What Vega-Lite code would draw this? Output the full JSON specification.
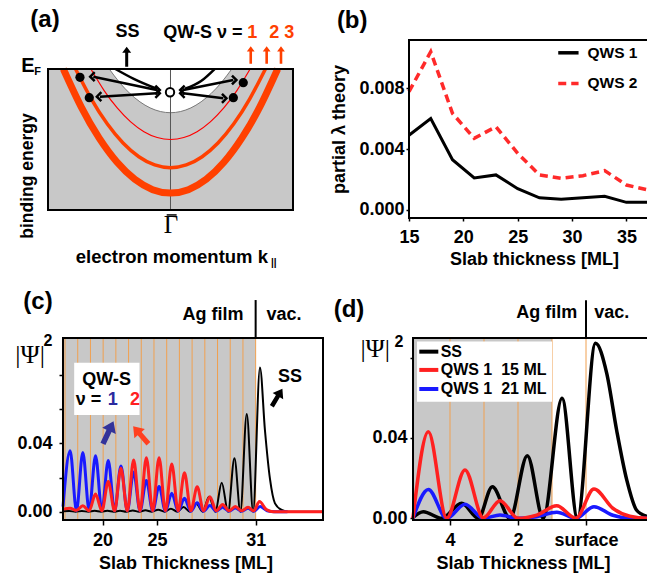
{
"$schema":"https://vega.github.io/schema/vega-lite/v6.json",
"autosize":{"type":"none"},
"padding":{"left":48,"top":40,"right":599,"bottom":537},
"columns":2,
"spacing":{"row":120,"column":86},
"bounds":"flush",
"align":"each",
"config":{
 "font":"Liberation Sans",
 "view":{"stroke":null},
 "axis":{"grid":false,"domain":false,"labelFont":"Liberation Sans","labelFontWeight":"bold","labelFontSize":18,"labelColor":"black","titleFont":"Liberation Sans","titleFontWeight":"bold","titleFontSize":18,"titleColor":"black","tickColor":"black","tickWidth":1.5,"labelFlush":false,"labelOverlap":false},
 "text":{"font":"Liberation Sans","fontWeight":"bold","fontSize":18,"color":"black"}
},
"concat":[
{
"width":275,"height":178,
"encoding":{
 "x":{"field":"x","type":"quantitative","scale":{"domain":[-1,1.2449],"nice":false,"zero":false},"axis":null},
 "y":{"field":"y","type":"quantitative","scale":{"domain":[-0.2057,1.0567],"nice":false,"zero":false,"reverse":true},"axis":null}
},
"layer":[
 {"data":{"values":[{"x":-1,"x2":1,"y":0,"y2":1}]},"mark":{"type":"rect","color":"#c8c8c8"},"encoding":{"x2":{"field":"x2"},"y2":{"field":"y2"}}},
 {"data":{"values":[{"x":-0.5,"y":0},{"x":-0.4167,"y":0.0947},{"x":-0.3333,"y":0.1722},{"x":-0.25,"y":0.2325},{"x":-0.1667,"y":0.2756},{"x":-0.0833,"y":0.3014},{"x":0,"y":0.31},{"x":0.0833,"y":0.3014},{"x":0.1667,"y":0.2756},{"x":0.25,"y":0.2325},{"x":0.3333,"y":0.1722},{"x":0.4167,"y":0.0947},{"x":0.5,"y":0}]},"mark":{"type":"area","color":"white","interpolate":"natural"},"encoding":{"y2":{"datum":0}}},
 {"data":{"values":[{"x":-0.5,"y":0},{"x":-0.4167,"y":0.0947},{"x":-0.3333,"y":0.1722},{"x":-0.25,"y":0.2325},{"x":-0.1667,"y":0.2756},{"x":-0.0833,"y":0.3014},{"x":0,"y":0.31},{"x":0.0833,"y":0.3014},{"x":0.1667,"y":0.2756},{"x":0.25,"y":0.2325},{"x":0.3333,"y":0.1722},{"x":0.4167,"y":0.0947},{"x":0.5,"y":0}]},"mark":{"type":"line","color":"#7a7a7a","strokeWidth":1,"interpolate":"natural"}},
 {"data":{"values":[{"x":0,"y":0,"y2":1}]},"mark":{"type":"rule","color":"#555555","strokeWidth":1},"encoding":{"y2":{"field":"y2"}}},
 {"data":{"values":[{"x":-0.875,"y":0},{"x":-0.7292,"y":0.2689},{"x":-0.5833,"y":0.4889},{"x":-0.4375,"y":0.66},{"x":-0.2917,"y":0.7822},{"x":-0.1458,"y":0.8556},{"x":0,"y":0.88},{"x":0.1458,"y":0.8556},{"x":0.2917,"y":0.7822},{"x":0.4375,"y":0.66},{"x":0.5833,"y":0.4889},{"x":0.7292,"y":0.2689},{"x":0.875,"y":0}]},"mark":{"type":"line","color":"#ff4000","strokeWidth":7,"interpolate":"natural"}},
 {"data":{"values":[{"x":-0.775,"y":0},{"x":-0.6458,"y":0.2139},{"x":-0.5167,"y":0.3889},{"x":-0.3875,"y":0.525},{"x":-0.2583,"y":0.6222},{"x":-0.1292,"y":0.6806},{"x":0,"y":0.7},{"x":0.1292,"y":0.6806},{"x":0.2583,"y":0.6222},{"x":0.3875,"y":0.525},{"x":0.5167,"y":0.3889},{"x":0.6458,"y":0.2139},{"x":0.775,"y":0}]},"mark":{"type":"line","color":"#ff4000","strokeWidth":3.5,"interpolate":"natural"}},
 {"data":{"values":[{"x":-0.65,"y":0},{"x":-0.5417,"y":0.1528},{"x":-0.4333,"y":0.2778},{"x":-0.325,"y":0.375},{"x":-0.2167,"y":0.4444},{"x":-0.1083,"y":0.4861},{"x":0,"y":0.5},{"x":0.1083,"y":0.4861},{"x":0.2167,"y":0.4444},{"x":0.325,"y":0.375},{"x":0.4333,"y":0.2778},{"x":0.5417,"y":0.1528},{"x":0.65,"y":0}]},"mark":{"type":"line","color":"#ff0000","strokeWidth":1.2,"interpolate":"natural"}},
 {"data":{"values":[
   {"g":"ul","x":-0.63,"y":0.0546},{"g":"ul","x":-0.1127,"y":0.149},
   {"g":"ll","x":-0.5755,"y":0.1965},{"g":"ll","x":-0.1127,"y":0.1723},
   {"g":"ur","x":0.1045,"y":0.149},{"g":"ur","x":0.5127,"y":0.078},
   {"g":"lr","x":0.1045,"y":0.1723},{"g":"lr","x":0.431,"y":0.2078},
   {"g":"cl","x":-0.45,"y":0},{"g":"cl","x":-0.3,"y":0.07},{"g":"cl","x":-0.113,"y":0.14},
   {"g":"cr","x":0.118,"y":0.14},{"g":"cr","x":0.25,"y":0.085},{"g":"cr","x":0.36,"y":0}
 ]},"mark":{"type":"line","color":"black","strokeWidth":2.5,"interpolate":"monotone"},"encoding":{"detail":{"field":"g"}}},
 {"data":{"values":[{"x":-0.63,"y":0.0546},{"x":-0.5755,"y":0.1965},{"x":0.1045,"y":0.149},{"x":0.1045,"y":0.1723}]},"mark":{"type":"point","shape":"M0.3,-1L-0.7,0L0.3,1","filled":false,"color":"black","strokeWidth":2.5,"size":80,"opacity":1}},
 {"data":{"values":[{"x":-0.1127,"y":0.149},{"x":-0.1127,"y":0.1723},{"x":0.5127,"y":0.078},{"x":0.431,"y":0.2078}]},"mark":{"type":"point","shape":"M-0.3,-1L0.7,0L-0.3,1","filled":false,"color":"black","strokeWidth":2.5,"size":80,"opacity":1}},
 {"data":{"values":[{"x":-0.739,"y":0.059},{"x":-0.663,"y":0.2035},{"x":0.594,"y":0.097},{"x":0.513,"y":0.2035}]},"mark":{"type":"point","shape":"circle","filled":true,"color":"black","size":85,"opacity":1}},
 {"data":{"values":[{"x":-0.004,"y":0.165}]},"mark":{"type":"point","shape":"circle","filled":true,"color":"white","stroke":"black","strokeWidth":2,"size":70,"opacity":1}},
 {"data":{"values":[{"x":-1,"x2":1,"y":0,"y2":1}]},"mark":{"type":"rect","filled":false,"color":"black","strokeWidth":2},"encoding":{"x2":{"field":"x2"},"y2":{"field":"y2"}}},
 {"data":{"values":[{"x":-0.3576,"y":-0.0872}]},"mark":{"type":"point","shape":"M0,-1L0.45,-0.4L0.15,-0.4L0.15,1L-0.15,1L-0.15,-0.4L-0.45,-0.4Z","filled":true,"color":"black","size":400,"opacity":1}},
 {"data":{"values":[{"x":0.655,"y":-0.0993},{"x":0.785,"y":-0.0993},{"x":0.902,"y":-0.0993}]},"mark":{"type":"point","shape":"M0,-1L0.45,-0.4L0.15,-0.4L0.15,1L-0.15,1L-0.15,-0.4L-0.45,-0.4Z","filled":true,"color":"#ff4000","size":300,"opacity":1}},
 {"data":{"values":[{"x":-1.0245,"y":-0.3475,"t":"(a)"}]},"mark":{"type":"text","fontSize":24},"encoding":{"text":{"field":"t"}}},
 {"data":{"values":[{"x":-0.352,"y":-0.259,"t":"SS"}]},"mark":{"type":"text"},"encoding":{"text":{"field":"t"}}},
 {"data":{"values":[{"x":-0.0588,"y":-0.253,"t":"QW-S ν ="}]},"mark":{"type":"text","align":"left"},"encoding":{"text":{"field":"t"}}},
 {"data":{"values":[{"x":0.668,"y":-0.253,"t":"1"},{"x":0.847,"y":-0.253,"t":"2"},{"x":0.97,"y":-0.253,"t":"3"}]},"mark":{"type":"text","color":"#ff4000"},"encoding":{"text":{"field":"t"}}},
 {"data":{"values":[{"x":-1.163,"y":-0.0213,"t":"E"}]},"mark":{"type":"text","fontSize":20},"encoding":{"text":{"field":"t"}}},
 {"data":{"values":[{"x":-1.0857,"y":0.0213,"t":"F"}]},"mark":{"type":"text","fontSize":11},"encoding":{"text":{"field":"t"}}},
 {"data":{"values":[{"x":-1.163,"y":0.759,"t":"binding energy"}]},"mark":{"type":"text","angle":270,"fontSize":17.5},"encoding":{"text":{"field":"t"}}},
 {"data":{"values":[{"x":0.004,"y":1.106,"t":"Γ"}]},"mark":{"type":"text","font":"Liberation Serif","fontWeight":"normal","fontSize":25},"encoding":{"text":{"field":"t"}}},
 {"data":{"values":[{"x":-0.031,"x2":0.05,"y":1.035}]},"mark":{"type":"rule","color":"black","strokeWidth":1.5},"encoding":{"x2":{"field":"x2"}}},
 {"data":{"values":[{"x":0.796,"y":1.333,"t":"electron momentum k"}]},"mark":{"type":"text","align":"right","fontSize":18.5},"encoding":{"text":{"field":"t"}}},
 {"data":{"values":[{"x":0.8204,"y":1.376,"t":"||"}]},"mark":{"type":"text","align":"left","fontSize":10},"encoding":{"text":{"field":"t"}}}
]
},
{
"width":250,"height":178,
"encoding":{
 "x":{"field":"x","type":"quantitative","scale":{"domain":[15,38],"nice":false,"zero":false},"axis":{"values":[15,20,25,30,35],"title":"Slab thickness [ML]","tickSize":3,"labelPadding":7,"titlePadding":4}},
 "y":{"field":"y","type":"quantitative","scale":{"domain":[-0.000525,0.01115],"nice":false,"zero":false},"axis":{"values":[0,0.004,0.008],"format":".3f","title":"partial λ theory","tickSize":3,"labelPadding":2,"titlePadding":10}}
},
"layer":[
 {"data":{"values":[{"x":15,"y":0.00776},{"x":17,"y":0.01038},{"x":19,"y":0.00634},{"x":21,"y":0.0047},{"x":23,"y":0.00546},{"x":25,"y":0.00372},{"x":27,"y":0.0023},{"x":29,"y":0.00208},{"x":31,"y":0.00225},{"x":33,"y":0.00258},{"x":35,"y":0.00164},{"x":37,"y":0.00131}]},"mark":{"type":"line","color":"#ff2a2a","strokeWidth":3.5,"strokeDash":[8,5]}},
 {"data":{"values":[{"x":15,"y":0.0049},{"x":17,"y":0.006},{"x":19,"y":0.0033},{"x":21,"y":0.0021},{"x":23,"y":0.0023},{"x":25,"y":0.0014},{"x":27,"y":0.0008},{"x":29,"y":0.0007},{"x":31,"y":0.0008},{"x":33,"y":0.0009},{"x":35,"y":0.0005},{"x":37,"y":0.0005}]},"mark":{"type":"line","color":"black","strokeWidth":3}},
 {"data":{"values":[{"x":28.73,"y":0.01031},{"x":30.6,"y":0.01031}]},"mark":{"type":"line","color":"black","strokeWidth":3.5}},
 {"data":{"values":[{"x":28.73,"y":0.0083},{"x":30.6,"y":0.0083}]},"mark":{"type":"line","color":"#ff2a2a","strokeWidth":3.5,"strokeDash":[8,5]}},
 {"data":{"values":[{"x":31.42,"y":0.01031,"t":"QWS 1"},{"x":31.42,"y":0.0083,"t":"QWS 2"}]},"mark":{"type":"text","align":"left","fontSize":15.5},"encoding":{"text":{"field":"t"}}},
 {"data":{"values":[{"x":9.775,"y":0.01239,"t":"(b)"}]},"mark":{"type":"text","fontSize":24},"encoding":{"text":{"field":"t"}}},
 {"data":{"values":[{"x":15,"x2":38,"y":-0.000525,"y2":0.01115}]},"mark":{"type":"rect","filled":false,"color":"black","strokeWidth":2},"encoding":{"x2":{"field":"x2"},"y2":{"field":"y2"}}}
]
},
{
"width":275,"height":182,
"encoding":{
 "x":{"field":"x","type":"quantitative","scale":{"domain":[14.66,36.3],"nice":false,"zero":false},"axis":{"values":[18.95,23.23,31],"labelExpr":"datum.value < 20 ? '20' : (datum.value < 25 ? '25' : '31')","title":"Slab Thickness [ML]","tickSize":5,"labelPadding":6,"titlePadding":5}},
 "y":{"field":"y","type":"quantitative","scale":{"domain":[-0.00485,0.1016],"nice":false,"zero":false},"axis":{"values":[0,0.02,0.04,0.06,0.08],"labelExpr":"datum.value == 0 ? '0.00' : (abs(datum.value - 0.04) < 0.001 ? '0.04' : '')","offset":-15,"tickSize":4,"labelPadding":7,"title":null}}
},
"layer":[
 {"data":{"values":[{"x":15.84,"x2":31,"y":-0.00485,"y2":0.1016}]},"mark":{"type":"rect","color":"#c8c8c8"},"encoding":{"x2":{"field":"x2"},"y2":{"field":"y2"}}},
 {"data":{"values":[{"x":16,"y":-0.00485,"y2":0.1016},{"x":17,"y":-0.00485,"y2":0.1016},{"x":18,"y":-0.00485,"y2":0.1016},{"x":19,"y":-0.00485,"y2":0.1016},{"x":20,"y":-0.00485,"y2":0.1016},{"x":21,"y":-0.00485,"y2":0.1016},{"x":22,"y":-0.00485,"y2":0.1016},{"x":23,"y":-0.00485,"y2":0.1016},{"x":24,"y":-0.00485,"y2":0.1016},{"x":25,"y":-0.00485,"y2":0.1016},{"x":26,"y":-0.00485,"y2":0.1016},{"x":27,"y":-0.00485,"y2":0.1016},{"x":28,"y":-0.00485,"y2":0.1016},{"x":29,"y":-0.00485,"y2":0.1016},{"x":30,"y":-0.00485,"y2":0.1016},{"x":31,"y":-0.00485,"y2":0.1016}]},"mark":{"type":"rule","color":"#f0a050","strokeWidth":1},"encoding":{"y2":{"field":"y2"}}},
 {"data":{"values":[{"x":15.84,"y":0.0003},{"x":16.33,"y":0.0004},{"x":16.83,"y":0},{"x":17.33,"y":0.0004},{"x":17.83,"y":0},{"x":18.33,"y":0.0005},{"x":18.83,"y":0},{"x":19.33,"y":0.0005},{"x":19.83,"y":0},{"x":20.33,"y":0.0006},{"x":20.83,"y":0},{"x":21.33,"y":0.0007},{"x":21.83,"y":0},{"x":22.33,"y":0.0009},{"x":22.83,"y":0},{"x":23.33,"y":0.0012},{"x":23.83,"y":0},{"x":24.33,"y":0.0018},{"x":24.83,"y":0},{"x":25.33,"y":0.0028},{"x":25.83,"y":0},{"x":26.33,"y":0.0048},{"x":26.83,"y":0},{"x":27.33,"y":0.0088},{"x":27.83,"y":0},{"x":28.33,"y":0.017},{"x":28.83,"y":0},{"x":29.33,"y":0.0312},{"x":29.8,"y":0},{"x":30.3,"y":0.0571},{"x":30.8,"y":0},{"x":31.34,"y":0.0844},{"x":31.73,"y":0.0478},{"x":32.13,"y":0.019},{"x":32.52,"y":0.0049},{"x":33.05,"y":0.001},{"x":33.6,"y":0},{"x":36.3,"y":0}]},"mark":{"type":"line","color":"black","strokeWidth":2,"interpolate":"monotone"}},
 {"data":{"values":[{"x":15.84,"y":0.003},{"x":16.4,"y":0.0356},{"x":16.9,"y":0.0006},{"x":17.4,"y":0.0346},{"x":17.9,"y":0.0006},{"x":18.4,"y":0.0328},{"x":18.9,"y":0.0006},{"x":19.4,"y":0.0299},{"x":19.9,"y":0.0006},{"x":20.4,"y":0.0268},{"x":20.9,"y":0.0005},{"x":21.4,"y":0.0232},{"x":21.9,"y":0.0005},{"x":22.4,"y":0.0182},{"x":22.9,"y":0.0005},{"x":23.4,"y":0.0148},{"x":23.9,"y":0.0004},{"x":24.4,"y":0.0108},{"x":24.9,"y":0.0004},{"x":25.4,"y":0.0078},{"x":25.9,"y":0.0003},{"x":26.4,"y":0.0052},{"x":26.9,"y":0.0003},{"x":27.4,"y":0.0036},{"x":27.9,"y":0.0003},{"x":28.4,"y":0.0026},{"x":28.9,"y":0.0003},{"x":29.4,"y":0.0022},{"x":29.9,"y":0.0003},{"x":30.4,"y":0.002},{"x":30.85,"y":0.0003},{"x":31.35,"y":0.003},{"x":31.9,"y":0.0006},{"x":32.5,"y":0},{"x":33.5,"y":0}]},"mark":{"type":"line","color":"#1a1aff","strokeWidth":3,"interpolate":"monotone"}},
 {"data":{"values":[{"x":15.84,"y":0.0015},{"x":16.4,"y":0.002},{"x":16.9,"y":0.0008},{"x":17.4,"y":0.0035},{"x":17.9,"y":0.0006},{"x":18.4,"y":0.0103},{"x":18.9,"y":0.0005},{"x":19.4,"y":0.0176},{"x":19.9,"y":0.0005},{"x":20.4,"y":0.0254},{"x":20.9,"y":0.0005},{"x":21.4,"y":0.0302},{"x":21.9,"y":0.0005},{"x":22.4,"y":0.0316},{"x":22.9,"y":0.0005},{"x":23.4,"y":0.0316},{"x":23.9,"y":0.0005},{"x":24.4,"y":0.0279},{"x":24.9,"y":0.0005},{"x":25.4,"y":0.0228},{"x":25.9,"y":0.0005},{"x":26.4,"y":0.0146},{"x":26.9,"y":0.0005},{"x":27.4,"y":0.0088},{"x":27.9,"y":0.0005},{"x":28.4,"y":0.0042},{"x":28.9,"y":0.0005},{"x":29.4,"y":0.003},{"x":29.9,"y":0.0005},{"x":30.4,"y":0.0026},{"x":30.85,"y":0.0005},{"x":31.3,"y":0.0059},{"x":31.85,"y":0.0012},{"x":32.4,"y":0},{"x":36.3,"y":0}]},"mark":{"type":"line","color":"#ff2020","strokeWidth":3,"interpolate":"monotone"}},
 {"data":{"values":[{"x":16.72,"x2":21.86,"y":0.0565,"y2":0.0871}]},"mark":{"type":"rect","color":"white"},"encoding":{"x2":{"field":"x2"},"y2":{"field":"y2"}}},
 {"data":{"values":[{"x":19.27,"y":0.0773,"t":"QW-S"}]},"mark":{"type":"text"},"encoding":{"text":{"field":"t"}}},
 {"data":{"values":[{"x":16.84,"y":0.0653,"t":"ν ="}]},"mark":{"type":"text","align":"left"},"encoding":{"text":{"field":"t"}}},
 {"data":{"values":[{"x":19.75,"y":0.0653,"t":"1"}]},"mark":{"type":"text","color":"#2a2aa0"},"encoding":{"text":{"field":"t"}}},
 {"data":{"values":[{"x":21.5,"y":0.0653,"t":"2"}]},"mark":{"type":"text","color":"#ff2020"},"encoding":{"text":{"field":"t"}}},
 {"data":{"values":[{"x":19.4,"y":0.0463}]},"mark":{"type":"point","shape":"M0,-1L0.6,-0.15L0.22,-0.15L0.22,1L-0.22,1L-0.22,-0.15L-0.6,-0.15Z","filled":true,"color":"#33339a","size":620,"angle":25,"opacity":1}},
 {"data":{"values":[{"x":21.96,"y":0.0449}]},"mark":{"type":"point","shape":"M0,-1L0.6,-0.15L0.22,-0.15L0.22,1L-0.22,1L-0.22,-0.15L-0.6,-0.15Z","filled":true,"color":"#ff4020","size":540,"angle":-41,"opacity":1}},
 {"data":{"values":[{"x":32.69,"y":0.0668}]},"mark":{"type":"point","shape":"M0,-1L0.6,-0.15L0.22,-0.15L0.22,1L-0.22,1L-0.22,-0.15L-0.6,-0.15Z","filled":true,"color":"black","size":420,"angle":31,"opacity":1}},
 {"data":{"values":[{"x":33.7,"y":0.0788,"t":"SS"}]},"mark":{"type":"text"},"encoding":{"text":{"field":"t"}}},
 {"data":{"values":[{"x":15.84,"x2":36.3,"y":-0.00485,"y2":0.1016}]},"mark":{"type":"rect","filled":false,"color":"black","strokeWidth":2},"encoding":{"x2":{"field":"x2"},"y2":{"field":"y2"}}},
 {"data":{"values":[{"x":31,"y":0.1016,"y2":0.1238}]},"mark":{"type":"rule","color":"black","strokeWidth":2},"encoding":{"y2":{"field":"y2"}}},
 {"data":{"values":[{"x":27.64,"y":0.115,"t":"Ag film"},{"x":33.23,"y":0.115,"t":"vac."}]},"mark":{"type":"text"},"encoding":{"text":{"field":"t"}}},
 {"data":{"values":[{"x":13.87,"y":0.1226,"t":"(c)"}]},"mark":{"type":"text","fontSize":24},"encoding":{"text":{"field":"t"}}},
 {"data":{"values":[{"x":13.25,"y":0.0918,"t":"|Ψ|"}]},"mark":{"type":"text","font":"Liberation Serif","fontWeight":"normal","fontSize":26},"encoding":{"text":{"field":"t"}}},
 {"data":{"values":[{"x":14.66,"y":0.1,"t":"2"}]},"mark":{"type":"text","fontSize":16},"encoding":{"text":{"field":"t"}}}
]
},
{
"width":250,"height":182,
"encoding":{
 "x":{"field":"x","type":"quantitative","scale":{"domain":[-5.206,2.147],"nice":false,"zero":false},"axis":{"values":[-4,-2,0],"labelExpr":"datum.value == 0 ? 'surface' : format(abs(datum.value), 'd')","title":"Slab Thickness [ML]","titleX":114,"tickSize":5,"labelPadding":6,"titlePadding":5}},
 "y":{"field":"y","type":"quantitative","scale":{"domain":[-0.00085,0.0898],"nice":false,"zero":false},"axis":{"values":[0,0.04,0.08],"labelExpr":"datum.value == 0 ? '0.00' : (abs(datum.value - 0.04) < 0.001 ? '0.04' : '')","offset":-4,"tickSize":3,"labelPadding":3,"title":null}}
},
"layer":[
 {"data":{"values":[{"x":-5.088,"x2":-1,"y":-0.00085,"y2":0.0898}]},"mark":{"type":"rect","color":"#c8c8c8"},"encoding":{"x2":{"field":"x2"},"y2":{"field":"y2"}}},
 {"data":{"values":[{"x":-4,"y":-0.00085,"y2":0.0898},{"x":-3,"y":-0.00085,"y2":0.0898},{"x":-2,"y":-0.00085,"y2":0.0898},{"x":-1,"y":-0.00085,"y2":0.0898},{"x":0,"y":-0.00085,"y2":0.0898}]},"mark":{"type":"rule","color":"#f0a050","strokeWidth":1},"encoding":{"y2":{"field":"y2"}}},
 {"data":{"values":[{"x":-5.09,"y":0.0005},{"x":-4.785,"y":0.0033},{"x":-4.244,"y":0},{"x":-3.656,"y":0.0075},{"x":-3.168,"y":0},{"x":-2.756,"y":0.0157},{"x":-2.235,"y":0},{"x":-1.726,"y":0.0312},{"x":-1.256,"y":0},{"x":-0.705,"y":0.0598},{"x":-0.25,"y":0},{"x":0.28,"y":0.0872},{"x":0.61,"y":0.0722},{"x":0.9,"y":0.044},{"x":1.2,"y":0.019},{"x":1.49,"y":0.004},{"x":1.78,"y":0.001},{"x":2.15,"y":0}]},"mark":{"type":"line","color":"black","strokeWidth":3.5,"interpolate":"monotone"}},
 {"data":{"values":[{"x":-5.09,"y":0},{"x":-4.638,"y":0.0144},{"x":-4.097,"y":0},{"x":-3.559,"y":0.007},{"x":-3.02,"y":0},{"x":-2.529,"y":0.0016},{"x":-2.0,"y":0},{"x":-1.45,"y":0.0008},{"x":-0.86,"y":0.003},{"x":-0.3,"y":0},{"x":0.235,"y":0.0058},{"x":0.79,"y":0.0015},{"x":1.3,"y":0},{"x":2.15,"y":0}]},"mark":{"type":"line","color":"#1a1aff","strokeWidth":3.5,"interpolate":"monotone"}},
 {"data":{"values":[{"x":-5.09,"y":0},{"x":-4.638,"y":0.0431},{"x":-4.097,"y":0},{"x":-3.559,"y":0.0241},{"x":-3.02,"y":0.0002},{"x":-2.529,"y":0.0088},{"x":-2.0,"y":0},{"x":-1.45,"y":0.0016},{"x":-0.86,"y":0.0062},{"x":-0.3,"y":0},{"x":0.235,"y":0.0146},{"x":0.79,"y":0.005},{"x":1.29,"y":0.001},{"x":1.8,"y":0},{"x":2.15,"y":0}]},"mark":{"type":"line","color":"#ff2020","strokeWidth":3.5,"interpolate":"monotone"}},
 {"data":{"values":[{"x":-4.97,"x2":-1,"y":0.0581,"y2":0.088}]},"mark":{"type":"rect","color":"white"},"encoding":{"x2":{"field":"x2"},"y2":{"field":"y2"}}},
 {"data":{"values":[{"x":-4.903,"y":0.083},{"x":-4.344,"y":0.083}]},"mark":{"type":"line","color":"black","strokeWidth":4}},
 {"data":{"values":[{"x":-4.903,"y":0.0739},{"x":-4.344,"y":0.0739}]},"mark":{"type":"line","color":"#ff2020","strokeWidth":4}},
 {"data":{"values":[{"x":-4.903,"y":0.0644},{"x":-4.344,"y":0.0644}]},"mark":{"type":"line","color":"#1a1aff","strokeWidth":4}},
 {"data":{"values":[{"x":-4.274,"y":0.083,"t":"SS"},{"x":-4.274,"y":0.0739,"t":"QWS 1\u00a0\u00a015 ML"},{"x":-4.274,"y":0.0644,"t":"QWS 1\u00a0\u00a021 ML"}]},"mark":{"type":"text","align":"left","fontSize":16},"encoding":{"text":{"field":"t"}}},
 {"data":{"values":[{"x":-5.088,"x2":2.147,"y":-0.00085,"y2":0.0898}]},"mark":{"type":"rect","filled":false,"color":"black","strokeWidth":2},"encoding":{"x2":{"field":"x2"},"y2":{"field":"y2"}}},
 {"data":{"values":[{"x":0,"y":0.0898,"y2":0.1086}]},"mark":{"type":"rule","color":"black","strokeWidth":2},"encoding":{"y2":{"field":"y2"}}},
 {"data":{"values":[{"x":-1.156,"y":0.1021,"t":"Ag film"},{"x":0.756,"y":0.1021,"t":"vac."}]},"mark":{"type":"text"},"encoding":{"text":{"field":"t"}}},
 {"data":{"values":[{"x":-6.97,"y":0.1038,"t":"(d)"}]},"mark":{"type":"text","fontSize":24},"encoding":{"text":{"field":"t"}}},
 {"data":{"values":[{"x":-6.2,"y":0.0845,"t":"|Ψ|"}]},"mark":{"type":"text","font":"Liberation Serif","fontWeight":"normal","fontSize":26},"encoding":{"text":{"field":"t"}}},
 {"data":{"values":[{"x":-5.5,"y":0.0878,"t":"2"}]},"mark":{"type":"text","fontSize":16},"encoding":{"text":{"field":"t"}}}
]
}
]
}
